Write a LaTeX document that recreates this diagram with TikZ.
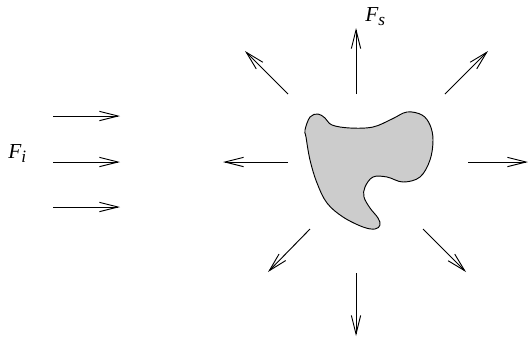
\documentclass[tikz,border=0pt]{standalone}
\usepackage{fontspec}
\setmainfont{Liberation Serif}
\usetikzlibrary{arrows.meta}
\newcommand{\lowsub}[1]{\raisebox{-0.45ex}{\fontsize{13}{15}\selectfont #1}}

\begin{document}
\begin{tikzpicture}[
  x=0.75pt, y=-0.75pt,
  every node/.style={font=\fontsize{16}{18}\selectfont\itshape, inner sep=0pt},
  force/.style={-{Straight Barb[length=14pt,width=7pt]}, line width=0.7pt},
  blob/.style={draw, fill=black!20, line width=0.7pt}
]
  \useasboundingbox (0,0) rectangle (528,337);

  % incident field
  \foreach \y [count=\k] in {116,162,207} {
    \coordinate (in\k a) at (53,\y);
    \coordinate (in\k b) at (120,\y);
    \draw[force] (in\k a) -- (in\k b);
  }
  \node[anchor=base west] (Fi) at (8,158) {F\lowsub{i}};

  % scatterer
  \draw[blob] plot[smooth cycle, tension=0.6] coordinates {
    (305,130) (310,117) (318,114) (325,118) (332,125) (350,128) (373,127)
    (392,119) (407,112) (422,115) (430,125) (433,140) (430,160) (420,177)
    (403,182) (387,177) (373,177) (365,187) (364,197) (370,208) (378,218)
    (380,225) (375,229) (363,227) (343,217) (327,203) (317,183) (310,160)
    (306,137)};

  % scattered field: name / tail / tip
  \foreach \nm/\xa/\ya/\xb/\yb in {n/356/94/356/28, ne/445/94/488/51,
      e/468/162/528/162, se/423/229/466/272, s/356/273/356/336,
      sw/310/229/268/272, w/288/162/223/162, nw/288/94/245/51} {
    \coordinate (tail-\nm) at (\xa,\ya);
    \coordinate (tip-\nm) at (\xb,\yb);
    \draw[force] (tail-\nm) -- (tip-\nm);
  }
  \node[anchor=base west] (Fs) at (365,21) {F\lowsub{s}};
\end{tikzpicture}
\end{document}
